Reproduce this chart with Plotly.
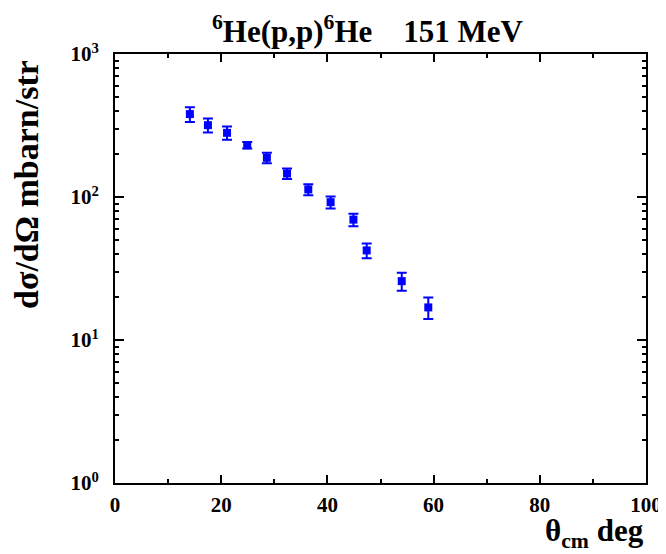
import plotly.graph_objects as go

theta = [14.1, 17.5, 21.1, 24.9, 28.6, 32.4, 36.4, 40.6, 44.9, 47.4, 54.0, 59.0]
xsec = [380, 318, 281, 230, 188, 146, 113, 92, 69.5, 42.3, 25.8, 16.9]
err = [45, 36, 30, 12, 16, 12.5, 10, 9, 7, 5, 3.7, 2.9]

y_major = [1, 10, 100, 1000]
y_major_text = ["10<sup>0</sup>", "10<sup>1</sup>", "10<sup>2</sup>", "10<sup>3</sup>"]
y_minor = [m * d for d in [1, 10, 100] for m in range(2, 10)]
x_major = [0, 20, 40, 60, 80, 100]
x_minor = [10, 30, 50, 70, 90]

FONT = "Liberation Serif, Times New Roman, serif"
BLUE = "#0000FF"

# page has an 8px body margin, so the figure is 8px smaller than the window
W, H = 658, 546
ML, MR, MT, MB = 107, 20, 46, 71
PW, PH = W - ML - MR, H - MT - MB


def px(xp):
    return (xp - 8 - ML) / PW


def py(yp):
    return (H - MB - (yp - 8)) / PH


fig = go.Figure()
fig.add_trace(go.Scatter(
    x=theta, y=xsec, mode="markers",
    marker=dict(symbol="square", size=8, color=BLUE),
    error_y=dict(type="data", array=err, visible=True, color=BLUE, thickness=2, width=5),
    showlegend=False,
))

axis_common = dict(
    showline=True, linecolor="black", linewidth=2, mirror="ticks",
    ticks="inside", tickcolor="black", tickwidth=2, showgrid=False, zeroline=False,
    automargin=False, ticklabeloverflow="allow",
    tickfont=dict(family=FONT, size=21, color="black", weight="bold"),
)

fig.update_layout(
    width=W, height=H,
    margin=dict(l=ML, r=MR, t=MT, b=MB),
    paper_bgcolor="white", plot_bgcolor="white",
    xaxis=dict(range=[0, 100], tickmode="array", tickvals=x_major, ticklen=8,
               minor=dict(tickvals=x_minor, ticklen=4, ticks="inside", tickcolor="black", tickwidth=2),
               ticklabelstandoff=2, **axis_common),
    yaxis=dict(type="log", range=[0, 3], tickmode="array", tickvals=y_major, ticktext=y_major_text,
               ticklen=9,
               minor=dict(tickvals=y_minor, ticklen=4, ticks="inside", tickcolor="black", tickwidth=2),
               ticklabelstandoff=10, **axis_common),
    annotations=[
        dict(text="<sup>6</sup>He(p,p)<sup>6</sup>He\u00a0\u00a0\u00a0\u00a0151 MeV",
             xref="paper", yref="paper", x=px(368), y=py(30),
             showarrow=False, xanchor="center", yanchor="middle",
             font=dict(family=FONT, size=31, color="black", weight="bold")),
        dict(text="dσ/dΩ mbarn/str", textangle=-90,
             xref="paper", yref="paper", x=px(26), y=py(185),
             showarrow=False, xanchor="center", yanchor="middle",
             font=dict(family=FONT, size=34, color="black", weight="bold")),
        dict(text="θ<sub>cm</sub> deg",
             xref="paper", yref="paper", x=px(646), y=py(533),
             showarrow=False, xanchor="right", yanchor="middle",
             font=dict(family=FONT, size=31, color="black", weight="bold")),
    ],
)

fig.write_html("out.html")
